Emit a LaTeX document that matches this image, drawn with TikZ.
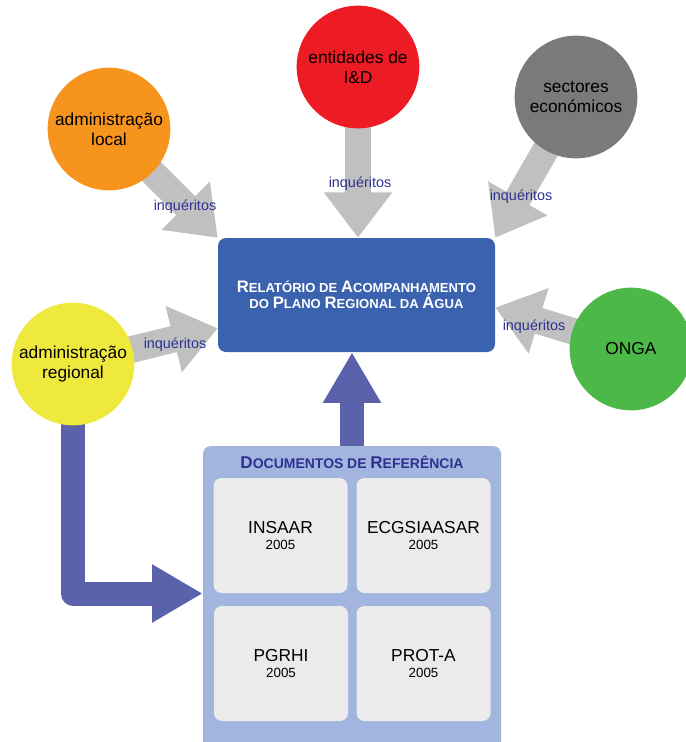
\documentclass[tikz,border=0pt]{standalone}
\usepackage{fontspec}
\setmainfont{Liberation Sans}
\usetikzlibrary{arrows.meta,calc}
\definecolor{cOrange}{HTML}{F7941D}
\definecolor{cRed}{HTML}{ED1C24}
\definecolor{cGrey}{HTML}{7A7A7A}
\definecolor{cYellow}{HTML}{EFE83D}
\definecolor{cGreen}{HTML}{4CB848}
\definecolor{cBlue}{HTML}{3A62AE}
\definecolor{cNavy}{HTML}{2E3192}
\definecolor{cArrow}{HTML}{C0C0C0}
\definecolor{cPurple}{HTML}{5B62AC}
\definecolor{cDocs}{HTML}{A2B5DE}
\definecolor{cInner}{HTML}{EBEBEB}
\pgfdeclarelayer{bg}
\pgfsetlayers{bg,main}
\newcommand\bigc{\fontsize{12.5}{15}\selectfont}
\newcommand\smallc{\fontsize{9.8}{15}\selectfont}
\newcommand\SCw[2]{{\bigc #1}{\smallc #2}}
\newcommand\tbig{\fontsize{12.8}{15}\selectfont}
\newcommand\tsmall{\fontsize{10.5}{15}\selectfont}
\newcommand\SCt[2]{{\tbig #1}{\tsmall #2}}
\begin{document}
\begin{tikzpicture}[x=0.75pt,y=-0.75pt,
  bubble/.style={circle,inner sep=0pt,minimum size=92pt,align=center,
    font=\fontsize{13}{15}\selectfont},
  lbl/.style={text=cNavy,font=\fontsize{10.8}{13}\selectfont,inner sep=0pt},
  greyarrow/.style={draw=cArrow,line width=20pt,
    -{Triangle[length=34pt,width=49pt]}},
  purplearrow/.style={draw=cPurple,line width=18pt,
    -{Triangle[length=38pt,width=41pt]}},
  mainbox/.style={fill=cBlue,rounded corners=6pt,minimum width=207.75pt,
    minimum height=85.5pt,text=white,align=center,font=\bfseries},
  docbox/.style={fill=cInner,rounded corners=6pt,minimum width=100.5pt,
    minimum height=86.25pt,align=center,inner sep=0pt}]
\useasboundingbox (0,0) rectangle (685,742);

% circles
\node[bubble,fill=cOrange] (loc) at (109,129) {administração\\local};
\node[bubble,fill=cRed] (rd) at (358,67) {entidades de\\I\&D};
\node[bubble,fill=cGrey] (eco) at (576,97) {sectores\\económicos};
\node[bubble,fill=cYellow] (reg) at (73,364) {administração\\regional};
\node[bubble,fill=cGreen] (onga) at (631,349) {ONGA};

% main box
\node[mainbox] (main) at (356.5,295)
  {\SCw{R}{ELATÓRIO} {\smallc DE} \SCw{A}{COMPANHAMENTO}\\
   {\smallc DO} \SCw{P}{LANO} \SCw{R}{EGIONAL} {\smallc DA} \SCw{Á}{GUA}};

% documents box
\node[fill=cDocs,rounded corners=6pt,minimum width=223.5pt,minimum height=228pt,
  inner sep=0pt] (docs) at (352,598) {};
\node[text=cNavy,font=\bfseries,inner sep=0pt] (doct) at (352,462)
  {\SCt{D}{OCUMENTOS} {\tsmall DE} \SCt{R}{EFERÊNCIA}};
\node[docbox] (d1) at (280.5,535.5) {{\fontsize{13}{16}\selectfont INSAAR}\\{\fontsize{10}{12}\selectfont 2005}};
\node[docbox] (d2) at (423.5,535.5) {{\fontsize{13}{16}\selectfont ECGSIAASAR}\\{\fontsize{10}{12}\selectfont 2005}};
\node[docbox] (d3) at (281,663.5) {{\fontsize{13}{16}\selectfont PGRHI}\\{\fontsize{10}{12}\selectfont 2005}};
\node[docbox] (d4) at (423.5,663.5) {{\fontsize{13}{16}\selectfont PROT-A}\\{\fontsize{10}{12}\selectfont 2005}};

% connectors
\coordinate (tipY) at ($(main.north west)!0.79!(main.south west)$);
\coordinate (tipO) at ($(main.north east)!0.61!(main.south east)$);
\coordinate (tipL) at ($(docs.west)+(0,-4.5)$);
\coordinate (upS) at ($(docs.north)+(0,6)$);
\begin{pgfonlayer}{bg}
\draw[greyarrow] (loc.center) -- (main.north west);
\draw[greyarrow] (rd.center) -- (rd.center |- main.north);
\draw[greyarrow] (eco.center) -- (main.north east);
\draw[greyarrow] (reg.center) -- (tipY);
\draw[greyarrow] (onga.center) -- (tipO);
\draw[purplearrow,line cap=round] (upS) -- (upS |- main.south);
\draw[purplearrow,line join=round] (reg.center) -- (reg.center |- tipL) -- (tipL);
\end{pgfonlayer}

% labels
\node[lbl] (l1) at (185,207) {inquéritos};
\node[lbl] (l2) at (360,184) {inquéritos};
\node[lbl] (l3) at (521,197) {inquéritos};
\node[lbl] (l4) at (175,345) {inquéritos};
\node[lbl] (l5) at (534,327) {inquéritos};
\end{tikzpicture}
\end{document}
